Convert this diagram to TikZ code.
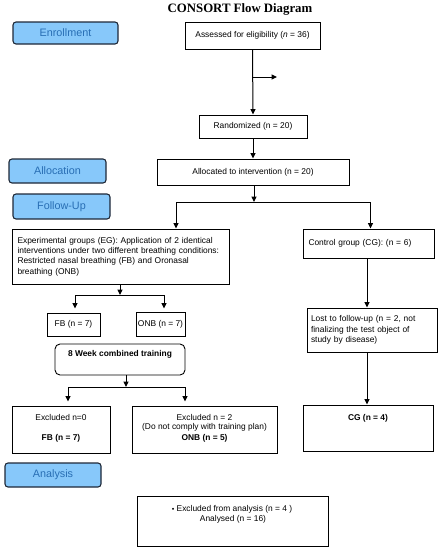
\documentclass[tikz,border=0pt]{standalone}
\usepackage{fontspec}
\setmainfont{Liberation Sans}
\newfontfamily\titlefont{Liberation Serif}
\usetikzlibrary{arrows.meta}
\definecolor{labfill}{RGB}{135,200,250}
\definecolor{labtext}{RGB}{40,110,180}
\definecolor{labborder}{RGB}{30,40,55}
\tikzset{
  box/.style={draw=black, line width=0.9pt, inner sep=2pt, font=\fontsize{8.4}{10.3}\selectfont},
  lab/.style={draw=labborder, line width=1.1pt, fill=labfill, rounded corners=3pt, text=labtext, inner sep=0pt, font=\fontsize{10.8}{12}\selectfont},
  txt/.style={inner sep=0pt, font=\fontsize{8.4}{10.3}\selectfont},
  btxt/.style={inner sep=0pt, font=\bfseries\fontsize{8.4}{10.3}\selectfont},
  conn/.style={line width=1pt, -{Triangle[length=5.5pt,width=5pt]}},
  line/.style={line width=1pt}
}
\begin{document}
\begin{tikzpicture}[x=1pt,y=-1pt]
\useasboundingbox (0,0) rectangle (441,550);
\node[inner sep=0pt, font=\titlefont\bfseries\fontsize{12.8}{14}\selectfont] (title) at (240,9) {CONSORT Flow Diagram};
% phase labels
\node[lab, minimum width=105pt, minimum height=22pt] (enroll) at (65.5,33) {Enrollment};
\node[lab, minimum width=97pt, minimum height=24pt] (alloclab) at (57.5,171) {Allocation};
\node[lab, minimum width=97pt, minimum height=25pt] (follow) at (61.5,206.5) {Follow-Up};
\node[lab, minimum width=96pt, minimum height=24pt] (analysis) at (53,475) {Analysis};
% boxes
\node[box, minimum width=135pt, minimum height=27pt] (assess) at (252.5,35.5) {Assessed for eligibility (\textit{n} = 36)};
\node[box, minimum width=108pt, minimum height=23pt] (rand) at (253,126.5) {Randomized (n = 20)};
\node[box, minimum width=192pt, minimum height=26pt] (alloc) at (253,172) {Allocated to intervention (n = 20)};
\node[box, minimum width=217pt, minimum height=55pt, text width=206pt, align=left] (eg) at (120.5,256.5) {Experimental groups (EG): Application of 2 identical\\interventions under two different breathing conditions:\\Restricted nasal breathing (FB) and Oronasal\\breathing (ONB)};
\node[box, minimum width=131pt, minimum height=29pt, text width=120pt, align=left] (cg) at (368.5,243.5) {Control group (CG): (n = 6)};
\node[box, minimum width=53pt, minimum height=23pt] (fb) at (73.5,324.5) {FB (n = 7)};
\node[box, minimum width=49pt, minimum height=24pt] (onb) at (160.5,324) {ONB (n = 7)};
\node[box, rounded corners=5pt, minimum width=130pt, minimum height=31pt] (week) at (120,359.5) {};
\node[btxt] (weektxt) at (120,354) {8 Week combined training};
\node[box, minimum width=130pt, minimum height=44pt, text width=122pt, align=left] (lost) at (372,330) {Lost to follow-up (n = 2, not\\finalizing the test object of\\study by disease)};
\node[box, minimum width=98pt, minimum height=47pt] (ex0) at (61,429.5) {};
\node[txt] (ex0a) at (61,417) {Excluded n=0};
\node[btxt] (ex0b) at (61,438) {FB (n = 7)};
\node[box, minimum width=145pt, minimum height=47pt] (ex2) at (204.5,429.5) {};
\node[txt] (ex2a) at (204.5,417) {Excluded n = 2};
\node[txt] (ex2b) at (204.5,427.5) {(Do not comply with training plan)};
\node[btxt] (ex2c) at (204.5,438) {ONB (n = 5)};
\node[box, minimum width=130pt, minimum height=46pt] (cg4) at (368,428) {};
\node[btxt] (cg4t) at (368,418) {CG (n = 4)};
\node[box, minimum width=191pt, minimum height=50pt] (final) at (232.5,521) {};
\node[txt] (fin1) at (232,509) {\raisebox{1pt}{\scalebox{0.6}{$\bullet$}} Excluded from analysis (n = 4 )};
\node[txt] (fin2) at (233,519.5) {Analysed (n = 16)};
% coordinates
\coordinate (side0) at (253,77);
\coordinate (side) at (277,77);
\coordinate (j1) at (254,202);
\coordinate (j1l) at (176,202);
\coordinate (j1r) at (370.5,202);
\coordinate (j2) at (120,295);
\coordinate (j2l) at (75,295);
\coordinate (j2r) at (164,295);
\coordinate (j3) at (126,387);
\coordinate (j3l) at (68,387);
\coordinate (j3r) at (185,387);
% connectors
\draw[conn] (assess.south) -- (rand.north);
\draw[conn] (side0) -- (side);
\draw[conn] (rand.south) -- (alloc.north);
\draw[conn] (alloc.south -| j1) -- (j1);
\draw[line] (j1l) -- (j1r);
\draw[conn] (j1l) -- (j1l |- eg.north);
\draw[conn] (j1r) -- (j1r |- cg.north);
\draw[conn] (cg.south -| 367,0) -- (lost.north -| 367,0);
\draw[conn] (eg.south -| j2) -- (j2);
\draw[line] (j2l) -- (j2r);
\draw[conn, shorten >=4pt] (j2l) -- (j2l |- fb.north);
\draw[conn, shorten >=4pt] (j2r) -- (j2r |- fb.north);
\draw[conn] (week.south -| j3) -- (j3);
\draw[line] (j3l) -- (j3r);
\draw[conn, shorten >=4pt] (j3l) -- (j3l |- ex0.north);
\draw[conn, shorten >=4pt] (j3r) -- (j3r |- ex2.north);
\draw[conn] (lost.south -| 367,0) -- (cg4.north -| 367,0);
\end{tikzpicture}
\end{document}
